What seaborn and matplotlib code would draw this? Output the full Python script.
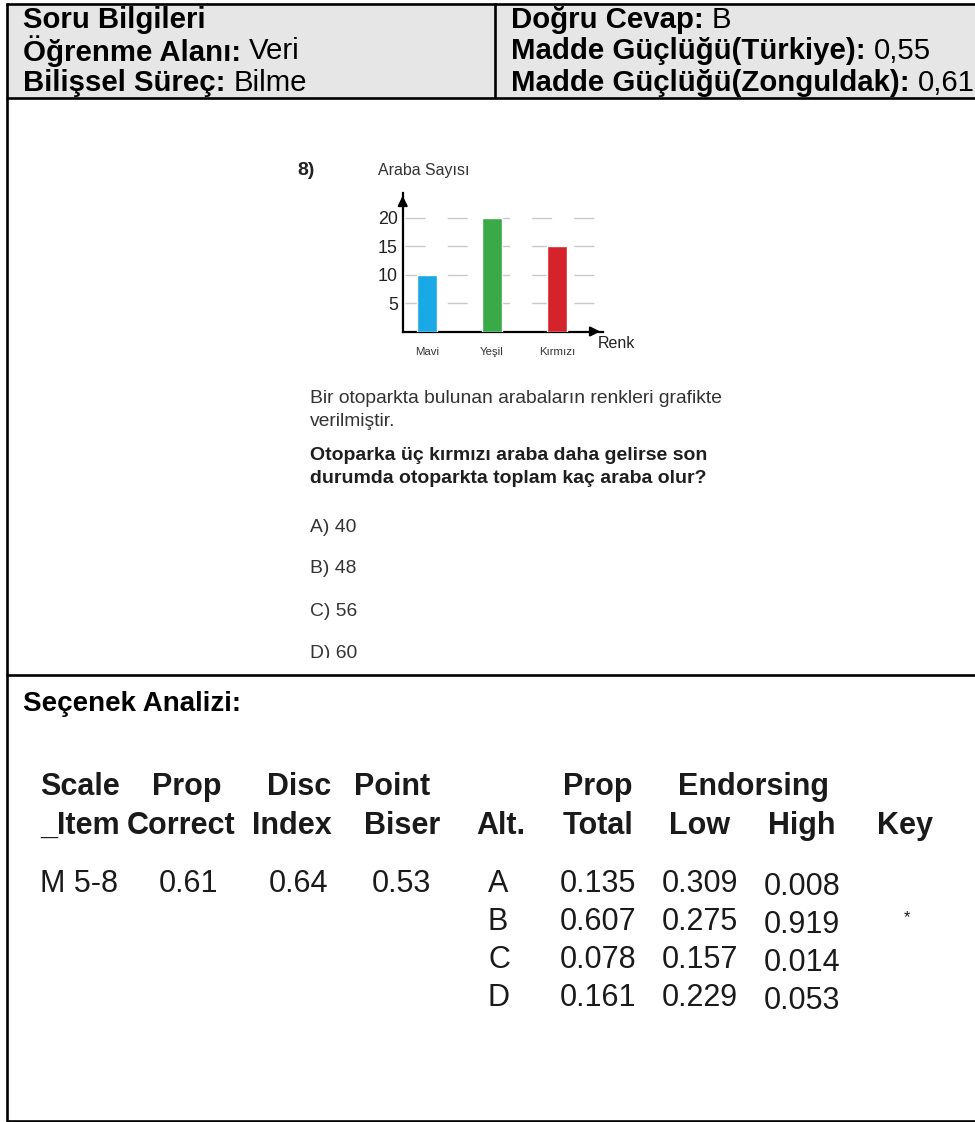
import matplotlib
matplotlib.use("Agg")
import matplotlib.pyplot as plt
from matplotlib.patches import Rectangle
import numpy as np
import pandas as pd
import seaborn as sns

# ---- question chart data ----
renk = ["Mavi", "Yeşil", "Kırmızı"]
araba_sayisi = [10, 20, 15]
bar_colors = ["#19a9e6", "#3aa948", "#d4232b"]
y_ticks = [5, 10, 15, 20]

# ---- header info ----
info_left = [("Soru Bilgileri", ""), ("Öğrenme Alanı: ", "Veri"), ("Bilişsel Süreç: ", "Bilme")]
info_right = [("Doğru Cevap: ", "B"), ("Madde Güçlüğü(Türkiye): ", "0,55"),
              ("Madde Güçlüğü(Zonguldak): ", "0,61")]

# ---- question text ----
soru_no = "8)"
soru_giris = ["Bir otoparkta bulunan arabaların renkleri grafikte", "verilmiştir."]
soru_kok = ["Otoparka üç kırmızı araba daha gelirse son", "durumda otoparkta toplam kaç araba olur?"]
secenekler = ["A) 40", "B) 48", "C) 56", "D) 60"]

# ---- item analysis table ----
head_top = ["Scale", "Prop", "Disc", "Point", "Prop", "Endorsing"]
head_bottom = ["_Item", "Correct", "Index", "Biser", "Alt.", "Total", "Low", "High", "Key"]
scale_item = "M 5-8"
prop_correct = "0.61"
disc_index = "0.64"
point_biser = "0.53"
alternatives = ["A", "B", "C", "D"]
prop_total = ["0.135", "0.607", "0.078", "0.161"]
endorse_low = ["0.309", "0.275", "0.157", "0.229"]
endorse_high = ["0.008", "0.919", "0.014", "0.053"]
key_alt = "B"

sns.set_theme(style="white")
plt.rcParams["font.family"] = ["Liberation Sans", "DejaVu Sans"]

W, H = 975, 1122
fig = plt.figure(figsize=(W / 100, H / 100), dpi=100)

# page layer in pixel coordinates
bg = fig.add_axes([0, 0, 1, 1])
bg.set_xlim(0, W)
bg.set_ylim(H, 0)
bg.axis("off")

# header background and frame
bg.add_patch(Rectangle((6, 3), W, 95, facecolor="#e6e6e6", edgecolor="none"))
line_kw = dict(color="black", lw=1.9, solid_capstyle="butt")
bg.plot([6.5, 6.5], [3, H - 1], **line_kw)
bg.plot([5.5, W], [3.5, 3.5], **line_kw)
bg.plot([495, 495], [3, 98], **line_kw)
bg.plot([5.5, W], [98, 98], **line_kw)
bg.plot([5.5, W], [675, 675], **line_kw)
bg.plot([5.5, W], [H - 1.5, H - 1.5], **line_kw)

HFS = 21.2
row_y = [19.5, 51, 83]


def label_value(x, y, lab, val, fs):
    t = bg.text(x, y, lab, fontsize=fs, fontweight="bold", va="center", ha="left", color="black")
    if val:
        fig.canvas.draw()
        bb = t.get_window_extent()
        x_end = bg.transData.inverted().transform((bb.x1, bb.y0))[0]
        bg.text(x_end, y, val, fontsize=fs, va="center", ha="left", color="black")


for (lab, val), y in zip(info_left, row_y):
    label_value(23, y, lab, val, HFS)
for (lab, val), y in zip(info_right, row_y):
    label_value(511, y, lab, val, HFS)

# ---- question ----
txt_c = "#333333"
bg.text(297, 170, soru_no, fontsize=14, fontweight="bold", va="center", color="#222222")
bg.text(378, 170, "Araba Sayısı", fontsize=11.4, va="center", color=txt_c)
bg.text(598, 343, "Renk", fontsize=11.5, va="center", color="#222222")

for s, y in zip(soru_giris, [398, 421]):
    bg.text(310, y, s, fontsize=13.9, va="center", color=txt_c)
for s, y in zip(soru_kok, [455, 478]):
    bg.text(310, y, s, fontsize=14, fontweight="bold", va="center", color="#1e1e1e")
for s, y in zip(secenekler, [527, 568, 611, 653]):
    bg.text(310, y, s, fontsize=13.9, va="center", color=txt_c)
# the question image ends just above the section line
bg.add_patch(Rectangle((290, 658), 200, 15.5, facecolor="white", edgecolor="none", zorder=5))

# ---- bar chart ----
px_unit = 65.0
x0_px, y0_px = 427.0, 331.5
left_px, right_px, top_px = 402.7, 603.0, 193.0
y_scale = (331.5 - 218.0) / 20.0
xlim = ((left_px - x0_px) / px_unit, (right_px - x0_px) / px_unit)
ylim = (0, (y0_px - top_px) / y_scale)
cax = fig.add_axes([left_px / W, 1 - y0_px / H, (right_px - left_px) / W, (y0_px - top_px) / H])
df = pd.DataFrame({"Renk": renk, "Araba": araba_sayisi})
sns.barplot(data=df, x="Renk", y="Araba", hue="Renk", palette=bar_colors, width=0.317,
            saturation=1, legend=False, ax=cax, zorder=3)
cax.set_xlim(*xlim)
cax.set_ylim(*ylim)
cax.set_facecolor("none")
cax.hlines(y_ticks, xlim[0] + 0.04, xlim[1] - 0.1, colors="#c9c9c9", lw=1.0,
           linestyles=(0, (14.4, 16.0)), zorder=1)
for side in ["top", "right"]:
    cax.spines[side].set_visible(False)
for side in ["left", "bottom"]:
    cax.spines[side].set_color("black")
    cax.spines[side].set_linewidth(1.6)
cax.set_yticks(y_ticks)
cax.set_yticklabels([str(v) for v in y_ticks], fontsize=12.9, color="#222222")
cax.tick_params(axis="y", length=0, pad=3.5)
cax.tick_params(axis="x", length=0, pad=11, labelsize=8.2, labelcolor="#333333")
cax.set_xlabel("")
cax.set_ylabel("")
arrow_kw = dict(arrowstyle="-|>", color="black", lw=1.6, mutation_scale=14)
cax.annotate("", xy=(0, 1.0), xytext=(0, 0.9), xycoords="axes fraction", arrowprops=arrow_kw,
             annotation_clip=False)
cax.annotate("", xy=(1.0, 0), xytext=(0.93, 0), xycoords="axes fraction", arrowprops=arrow_kw,
             annotation_clip=False)

# ---- option analysis ----
bg.text(23, 704, "Seçenek Analizi:", fontsize=20, fontweight="bold", va="center", color="black")

TFS = 22
tab_c = "#1a1a1a"
top_x = [40, 152, 267, 354, 563, 678]
for s, x in zip(head_top, top_x):
    bg.text(x, 787, s, fontsize=TFS, fontweight="bold", va="center", color=tab_c)
bot_x = [40, 127, 252, 364, 476, 563, 669, 768, 877]
for s, x in zip(head_bottom, bot_x):
    bg.text(x, 826, s, fontsize=TFS, fontweight="bold", va="center", color=tab_c)

data_y = [884, 922, 960, 998]
bg.text(40, data_y[0], scale_item, fontsize=TFS, va="center", color=tab_c)
bg.text(159, data_y[0], prop_correct, fontsize=TFS, va="center", color=tab_c)
bg.text(269, data_y[0], disc_index, fontsize=TFS, va="center", color=tab_c)
bg.text(372, data_y[0], point_biser, fontsize=TFS, va="center", color=tab_c)
for i, y in enumerate(data_y):
    bg.text(488, y, alternatives[i], fontsize=TFS, va="center", color=tab_c)
    bg.text(560, y, prop_total[i], fontsize=TFS, va="center", color=tab_c)
    bg.text(662, y, endorse_low[i], fontsize=TFS, va="center", color=tab_c)
    bg.text(764, y + 3, endorse_high[i], fontsize=TFS, va="center", color=tab_c)
    if alternatives[i] == key_alt:
        bg.text(907, y - 4, "*", fontsize=12, va="center", ha="center", color=tab_c)

fig.savefig("out.png", dpi=100)
